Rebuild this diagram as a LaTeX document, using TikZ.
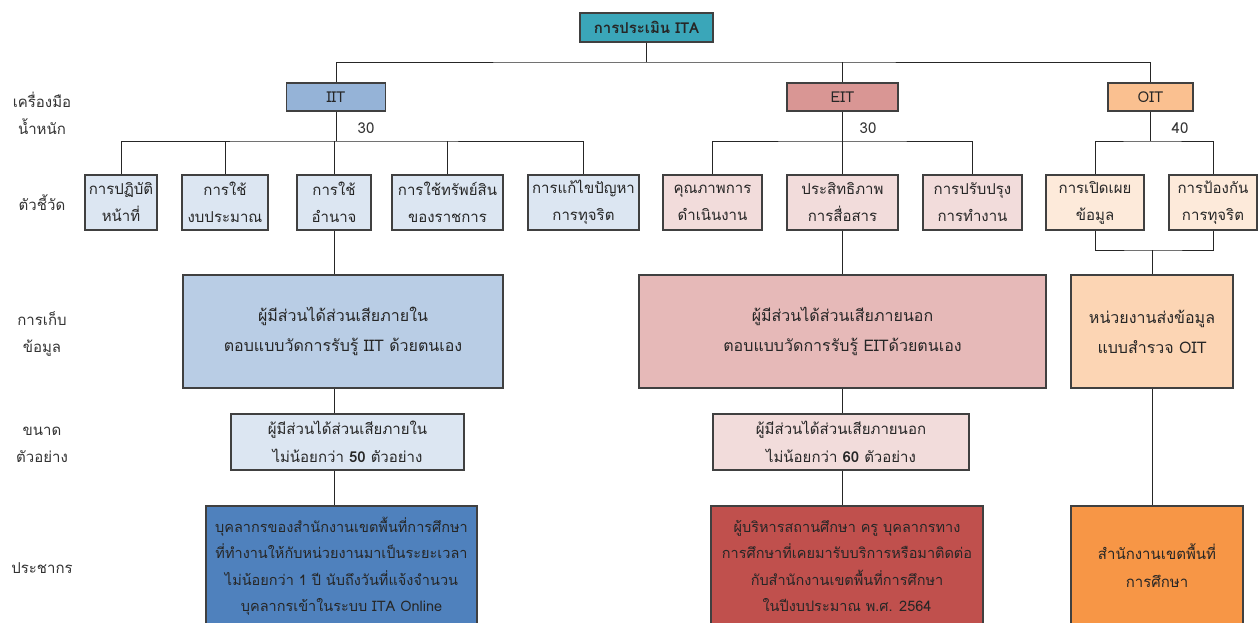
\documentclass[tikz,border=0pt]{standalone}
\usepackage{fontspec}
\setmainfont[Script=Thai]{Loma}
\usetikzlibrary{positioning}

\definecolor{itac}{HTML}{3AA6B9}
\definecolor{iitc}{HTML}{95B3D7}
\definecolor{eitc}{HTML}{D99694}
\definecolor{oitc}{HTML}{FAC090}
\definecolor{iitl}{HTML}{DCE6F2}
\definecolor{eitl}{HTML}{F2DCDB}
\definecolor{oitl}{HTML}{FDEADA}
\definecolor{iitm}{HTML}{B9CDE5}
\definecolor{eitm}{HTML}{E6B9B8}
\definecolor{oitm}{HTML}{FCD5B4}
\definecolor{iitd}{HTML}{4F81BD}
\definecolor{eitd}{HTML}{C0504D}
\definecolor{oitd}{HTML}{F79646}
\definecolor{edge}{HTML}{404040}

\begin{document}
\begin{tikzpicture}
  [x=1pt,y=-1pt,
   box/.style={draw=edge,line width=1.1pt,inner sep=0pt,align=center,
     font=\fontsize{15}{27}\selectfont,text=black!85},
   side/.style={inner sep=0pt,align=center,font=\fontsize{15}{27}\selectfont,text=black!80},
   wt/.style={inner sep=0pt,font=\fontsize{15}{18}\selectfont,text=black!80},
   line/.style={draw=black!85,line width=0.9pt}]

  \clip (0,0) rectangle (1258,622);
  \useasboundingbox (0,0) rectangle (1258,622);

  % top
  \node[box,fill=itac,minimum width=133pt,minimum height=29pt,font=\fontsize{15}{18}\selectfont\bfseries] (ita) at (646.5,27.5) {การประเมิน ITA};

  % tools
  \node[box,fill=iitc,minimum width=99pt,minimum height=28pt] (iit) at (336,97) {IIT};
  \node[box,fill=eitc,minimum width=111pt,minimum height=28pt] (eit) at (842.5,97) {EIT};
  \node[box,fill=oitc,minimum width=85pt,minimum height=28pt] (oit) at (1150.5,97) {OIT};

  \node[wt] (w1) at (366,128) {30};
  \node[wt] (w2) at (868,128) {30};
  \node[wt] (w3) at (1180,128) {40};

  % indicators
  \node[box,fill=iitl,minimum width=72pt,minimum height=55pt] (i1) at (121,202.5) {การปฏิบัติ\\หน้าที่};
  \node[box,fill=iitl,minimum width=86pt,minimum height=55pt] (i2) at (225,202.5) {การใช้\\งบประมาณ};
  \node[box,fill=iitl,minimum width=74pt,minimum height=55pt] (i3) at (334,202.5) {การใช้\\อำนาจ};
  \node[box,fill=iitl,minimum width=111pt,minimum height=55pt] (i4) at (447.5,202.5) {การใช้ทรัพย์สิน\\ของราชการ};
  \node[box,fill=iitl,minimum width=111pt,minimum height=55pt] (i5) at (583.5,202.5) {การแก้ไขปัญหา\\การทุจริต};
  \node[box,fill=eitl,minimum width=99pt,minimum height=55pt] (e1) at (712.5,202.5) {คุณภาพการ\\ดำเนินงาน};
  \node[box,fill=eitl,minimum width=111pt,minimum height=55pt] (e2) at (842.5,202.5) {ประสิทธิภาพ\\การสื่อสาร};
  \node[box,fill=eitl,minimum width=99pt,minimum height=55pt] (e3) at (972.5,202.5) {การปรับปรุง\\การทำงาน};
  \node[box,fill=oitl,minimum width=98pt,minimum height=55pt] (o1) at (1095,202.5) {การเปิดเผย\\ข้อมูล};
  \node[box,fill=oitl,minimum width=88pt,minimum height=55pt] (o2) at (1213,202.5) {การป้องกัน\\การทุจริต};

  % data collection
  \node[box,fill=iitm,minimum width=320pt,minimum height=113pt,font=\fontsize{16}{30}\selectfont] (iitg) at (343,331.5) {ผู้มีส่วนได้ส่วนเสียภายใน\\ตอบแบบวัดการรับรู้ IIT ด้วยตนเอง};
  \node[box,fill=eitm,minimum width=407pt,minimum height=113pt,font=\fontsize{16}{30}\selectfont] (eitg) at (842.5,331.5) {ผู้มีส่วนได้ส่วนเสียภายนอก\\ตอบแบบวัดการรับรู้ EITด้วยตนเอง};
  \node[box,fill=oitm,minimum width=162pt,minimum height=113pt,font=\fontsize{16}{30}\selectfont] (oitg) at (1152,331.5) {หน่วยงานส่งข้อมูล\\แบบสำรวจ OIT};

  % sample size
  \node[box,fill=iitl,minimum width=233pt,minimum height=56pt,font=\fontsize{15}{28}\selectfont] (iits) at (347.5,442) {ผู้มีส่วนได้ส่วนเสียภายใน\\ไม่น้อยกว่า \textbf{50} ตัวอย่าง};
  \node[box,fill=eitl,minimum width=256pt,minimum height=56pt,font=\fontsize{15}{28}\selectfont] (eits) at (841,442) {ผู้มีส่วนได้ส่วนเสียภายนอก\\ไม่น้อยกว่า \textbf{60} ตัวอย่าง};

  % population
  \node[box,fill=iitd,minimum width=271pt,minimum height=120pt,font=\fontsize{14.5}{26.5}\selectfont] (iitp) at (341.5,566) {บุคลากรของสำนักงานเขตพื้นที่การศึกษา\\ที่ทำงานให้กับหน่วยงานมาเป็นระยะเวลา\\ไม่น้อยกว่า 1 ปี นับถึงวันที่แจ้งจำนวน\\บุคลากรเข้าในระบบ ITA Online};
  \node[box,fill=eitd,minimum width=272pt,minimum height=120pt,font=\fontsize{14.5}{26.5}\selectfont] (eitp) at (847,566) {ผู้บริหารสถานศึกษา ครู บุคลากรทาง\\การศึกษาที่เคยมารับบริการหรือมาติดต่อ\\กับสำนักงานเขตพื้นที่การศึกษา\\ในปีงบประมาณ พ.ศ. 2564};
  \node[box,fill=oitd,minimum width=172pt,minimum height=120pt,font=\fontsize{15}{28}\selectfont] (oitp) at (1157,566) {สำนักงานเขตพื้นที่\\การศึกษา};

  % row labels
  \node[side] (l1) at (42,113) {เครื่องมือ\\น้ำหนัก};
  \node[side] (l2) at (42,203) {ตัวชี้วัด};
  \node[side] (l3) at (42,334) {การเก็บ\\ข้อมูล};
  \node[side] (l4) at (42,445) {ขนาด\\ตัวอย่าง};
  \node[side] (l5) at (42,568) {ประชากร};

  % bus points
  \coordinate (b0) at (646.5,62);
  \coordinate (bi) at (336,141);
  \coordinate (be) at (842.5,141);
  \coordinate (bo) at (1150.5,141);
  \coordinate (bg) at (1152,250);

  \draw[line] (ita) -- (b0);
  \draw[line] (iit) |- (b0) -| (oit);
  \draw[line] (eit) -- (eit |- b0);

  \draw[line] (iit) -- (bi);
  \draw[line] (i1) |- (bi) -| (i5);
  \draw[line] (i2) -- (i2 |- bi);
  \draw[line] (i3) -- (i3 |- bi);
  \draw[line] (i4) -- (i4 |- bi);

  \draw[line] (eit) -- (be);
  \draw[line] (e1) |- (be) -| (e3);
  \draw[line] (e2) -- (e2 |- be);

  \draw[line] (oit) -- (bo);
  \draw[line] (o1) |- (bo) -| (o2);

  \draw[line] (o1) |- (bg) -| (o2);
  \draw[line] (bg) -- (oitg);

  \draw[line] (i3) -- (i3 |- iitg.north);
  \draw[line] (i3 |- iitg.south) -- (i3 |- iits.north);
  \draw[line] (i3 |- iits.south) -- (i3 |- iitp.north);

  \draw[line] (e2) -- (eitg);
  \draw[line] (eitg) -- (eitg |- eits.north);
  \draw[line] (eitg |- eits.south) -- (eitg |- eitp.north);

  \draw[line] (oitg) -- (oitg |- oitp.north);
\end{tikzpicture}
\end{document}
